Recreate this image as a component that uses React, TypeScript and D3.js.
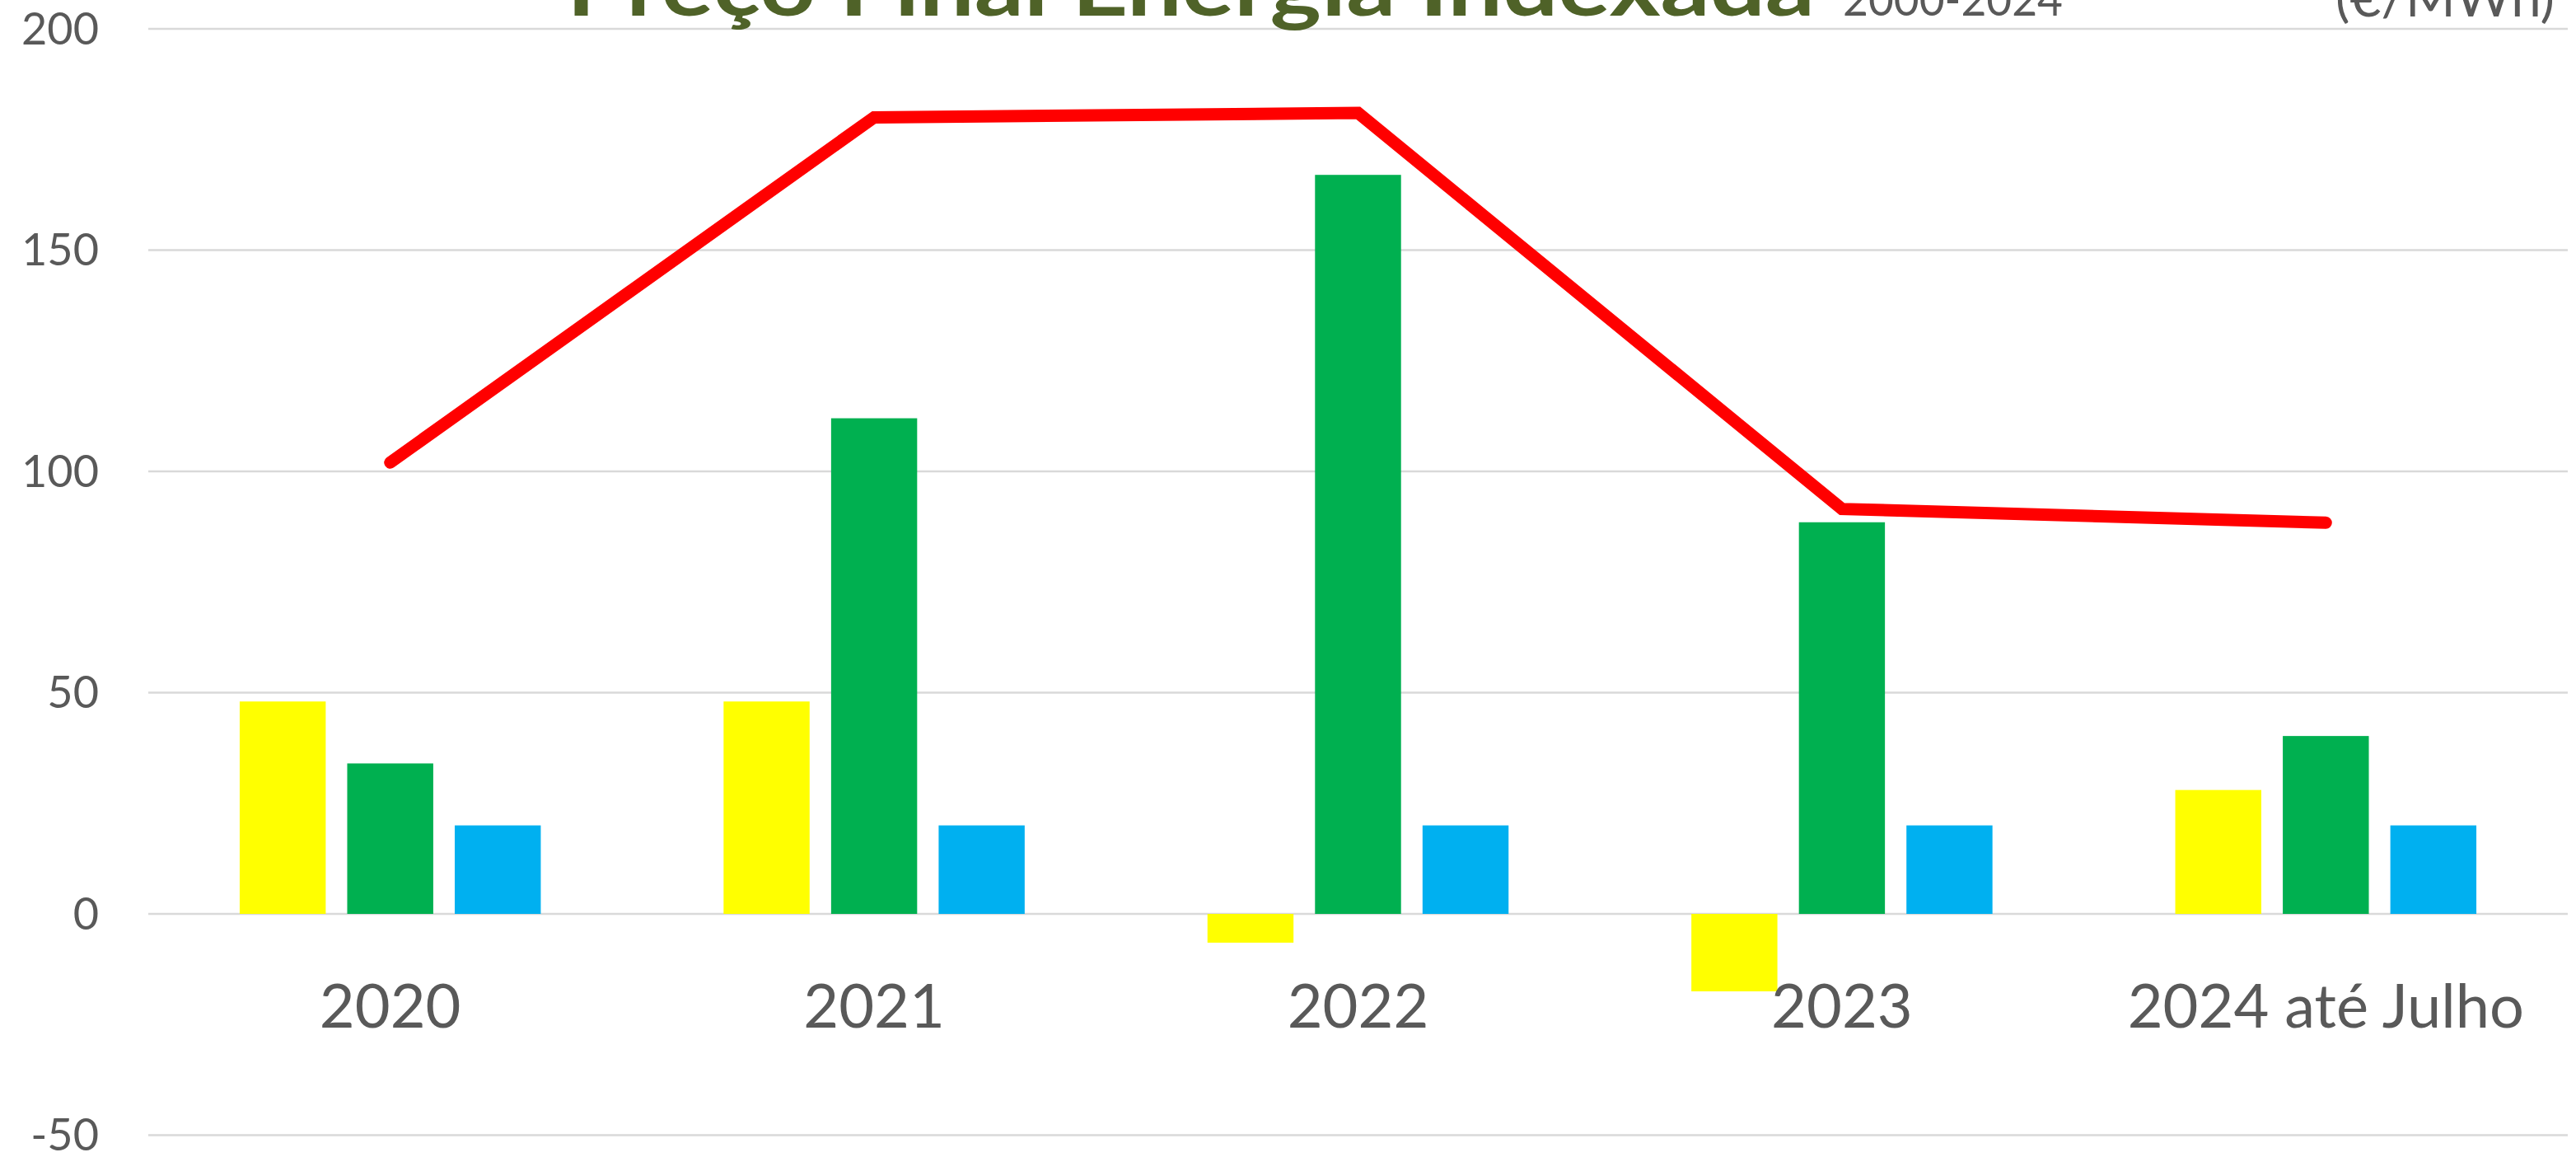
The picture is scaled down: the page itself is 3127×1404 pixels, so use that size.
import React from "react";
import * as d3 from "d3";

const categories = ["2020", "2021", "2022", "2023", "2024 até Julho"];
const seriesNames = ["amarelo", "verde", "azul"];
const yellowValues = [48, 48, -6.5, -17.5, 28];
const greenValues = [34, 112, 167, 88.5, 40.2];
const blueValues = [20, 20, 20, 20, 20];
const lineValues = [102, 180, 181, 91.5, 88.4];
const yTicks = [-50, 0, 50, 100, 150, 200];

const seriesColors = ["#FFFF00", "#00B050", "#00B0F0"];

const App = () => {
  const width = 3127;
  const height = 1404;
  const margin = { top: 35, right: 10, bottom: 26.5, left: 180 };

  const x0 = d3
    .scaleBand()
    .domain(categories)
    .range([margin.left, width - margin.right])
    .paddingInner(1 / 3)
    .paddingOuter(1 / 6);

  const x1 = d3
    .scaleBand()
    .domain(seriesNames)
    .range([0, x0.bandwidth()])
    .paddingInner(0.2)
    .paddingOuter(0.1);

  const y = d3
    .scaleLinear()
    .domain([-50, 200])
    .range([height - margin.bottom, margin.top]);

  const allSeries = [yellowValues, greenValues, blueValues];

  const cx = (c) => x0(c) + x0.bandwidth() / 2;

  const line = d3
    .line()
    .x((d, i) => cx(categories[i]))
    .y((d) => y(d));

  return (
    <svg
      width={width}
      height={height}
      style={{ position: "absolute", left: 0, top: 0, background: "#fff" }}
      fontFamily="Lato, 'Open Sans', sans-serif"
    >
      {/* grid */}
      {yTicks.map((t) => (
        <line
          key={t}
          x1={margin.left}
          x2={width - margin.right}
          y1={y(t)}
          y2={y(t)}
          stroke="#D9D9D9"
          strokeWidth={2.5}
        />
      ))}

      {/* bars */}
      {categories.map((c, i) => (
        <g key={c} transform={`translate(${x0(c)},0)`}>
          {allSeries.map((vals, s) => {
            const v = vals[i];
            return (
              <rect
                key={s}
                x={x1(seriesNames[s])}
                y={y(Math.max(0, v))}
                width={x1.bandwidth()}
                height={Math.abs(y(v) - y(0))}
                fill={seriesColors[s]}
              />
            );
          })}
        </g>
      ))}

      {/* price line */}
      <path
        d={line(lineValues)}
        fill="none"
        stroke="#FF0000"
        strokeWidth={15}
        strokeLinecap="round"
        strokeLinejoin="miter"
      />

      {/* y labels */}
      {yTicks.map((t) => (
        <text
          key={t}
          x={120}
          y={y(t)}
          dy="0.35em"
          textAnchor="end"
          fontSize={54}
          fill="#595959"
        >
          {t}
        </text>
      ))}

      {/* category labels */}
      {categories.map((c) => (
        <text
          key={c}
          x={cx(c)}
          y={1247}
          textAnchor="middle"
          fontSize={74}
          fill="#595959"
        >
          {c}
        </text>
      ))}

      {/* title, cut at the top */}
      <text
        x={688}
        y={19}
        fontSize={98}
        fontWeight="bold"
        fill="#4F6228"
        textLength={1515}
        lengthAdjust="spacingAndGlyphs"
      >
        Preço Final Energia Indexada
      </text>
      <text
        x={2237}
        y={19}
        fontSize={56}
        fill="#595959"
        textLength={267}
        lengthAdjust="spacingAndGlyphs"
      >
        2000-2024
      </text>
      <text
        x={2835}
        y={20}
        fontSize={62}
        fill="#595959"
        textLength={266}
        lengthAdjust="spacingAndGlyphs"
      >
        (€/MWh)
      </text>
    </svg>
  );
};

export default App;
